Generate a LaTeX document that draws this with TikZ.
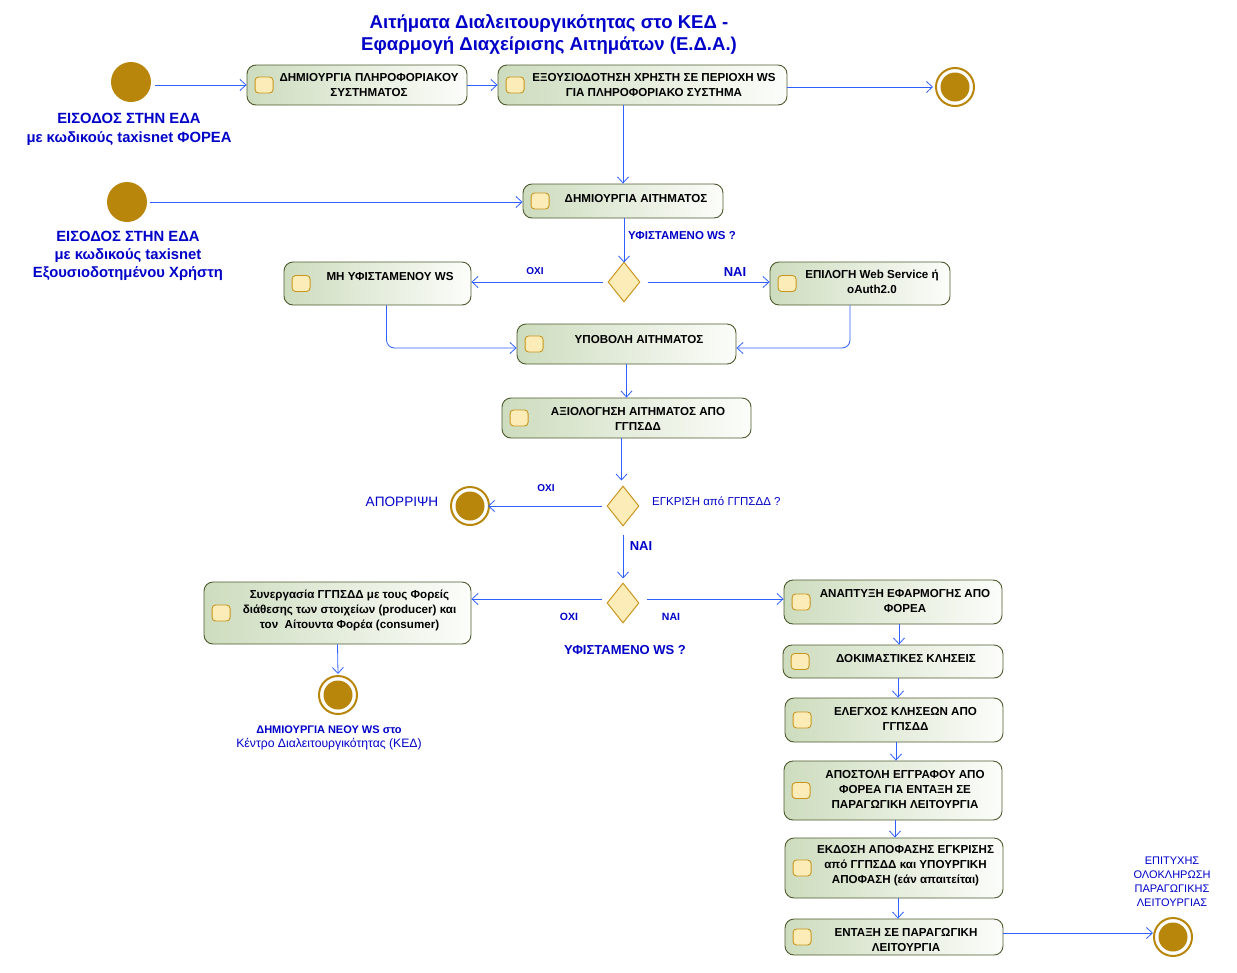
\documentclass[tikz,border=0pt]{standalone}
\usepackage{fontspec}
\setmainfont{Liberation Sans}
\usetikzlibrary{shapes.geometric,arrows.meta,calc}
\definecolor{gold}{RGB}{184,134,11}
\definecolor{icf}{RGB}{252,236,184}
\definecolor{icb}{RGB}{200,150,30}
\definecolor{actL}{RGB}{205,220,190}
\definecolor{actR}{RGB}{252,253,250}
\definecolor{actB}{RGB}{77,90,46}
\definecolor{connc}{RGB}{48,96,255}
\definecolor{lblue}{RGB}{0,0,200}
\tikzset{
  actbox/.style={draw=actB, line width=0.9pt, rounded corners=9pt, left color=actL, right color=actR, inner sep=0pt},
  iconbox/.style={draw=icb, fill=icf, rounded corners=3.5pt, minimum width=18pt, minimum height=16pt, inner sep=0pt, line width=0.9pt},
  acttext/.style={font=\bfseries\fontsize{11.6}{15}\selectfont, align=center, inner sep=0pt, text=black},
  conn/.style={draw=connc, line width=0.8pt, -{Straight Barb[length=6pt,width=11pt]}},
  decision/.style={diamond, draw=icb, fill=icf, line width=1pt, minimum width=32pt, minimum height=40pt, inner sep=0pt},
  startnode/.style={circle, fill=gold, minimum size=40pt, inner sep=0pt},
  finalnode/.style={circle, draw=gold, line width=2pt, fill=white, minimum size=38pt, inner sep=0pt},
  finalcore/.style={circle, fill=gold, minimum size=29pt, inner sep=0pt},
  lbl/.style={text=lblue, align=center, inner sep=0pt},
}
% name, cx, cy, w, h, text x, text y, text
\newcommand\actnd[8]{%
  \node[actbox, minimum width=#4pt, minimum height=#5pt] (#1) at (#2,#3) {};
  \node[iconbox] (#1i) at ($(#1.west)+(17.5,0)$) {};
  \node[acttext] (#1t) at (#6,#7) {#8};
}
\newcommand\finalnd[3]{%
  \node[finalnode] (#1) at (#2,#3) {};
  \node[finalcore] (#1c) at (#2,#3) {};
}
\begin{document}
\begin{tikzpicture}[x=1pt,y=-1pt]
\useasboundingbox (0,0) rectangle (1237,972);
% title
\node[lbl, font=\bfseries\fontsize{18.6}{22}\selectfont] (title) at (549,34) {Αιτήματα Διαλειτουργικότητας στο ΚΕΔ -\\Εφαρμογή Διαχείρισης Αιτημάτων (Ε.Δ.Α.)};
% starts
\node[startnode] (s1) at (131,82) {};
\node[startnode] (s2) at (127,202) {};
\node[lbl, font=\bfseries\fontsize{14.8}{19}\selectfont] (s1l) at (129,129.5) {ΕΙΣΟΔΟΣ ΣΤΗΝ ΕΔΑ\\με κωδικούς taxisnet ΦΟΡΕΑ};
\node[lbl, font=\bfseries\fontsize{14.8}{18}\selectfont] (s2l) at (128,256) {ΕΙΣΟΔΟΣ ΣΤΗΝ ΕΔΑ\\με κωδικούς taxisnet\\Εξουσιοδοτημένου Χρήστη};
% actions
\actnd{a1}{357}{85}{220}{40}{369}{85}{ΔΗΜΙΟΥΡΓΙΑ ΠΛΗΡΟΦΟΡΙΑΚΟΥ\\ΣΥΣΤΗΜΑΤΟΣ}
\actnd{a2}{642.5}{85}{289}{40}{654}{85}{ΕΞΟΥΣΙΟΔΟΤΗΣΗ ΧΡΗΣΤΗ ΣΕ ΠΕΡΙΟΧΗ WS\\ΓΙΑ ΠΛΗΡΟΦΟΡΙΑΚΟ ΣΥΣΤΗΜΑ}
\actnd{a3}{623}{201}{200}{34}{636}{199}{ΔΗΜΙΟΥΡΓΙΑ ΑΙΤΗΜΑΤΟΣ}
\actnd{a4}{377.5}{283.5}{187}{43}{390}{277}{ΜΗ ΥΦΙΣΤΑΜΕΝΟΥ WS}
\actnd{a5}{860}{283.5}{180}{43}{872}{281.5}{ΕΠΙΛΟΓΗ Web Service ή\\oAuth2.0}
\actnd{a6}{626.5}{344}{219}{40}{639}{340}{ΥΠΟΒΟΛΗ ΑΙΤΗΜΑΤΟΣ}
\actnd{a7}{626.5}{418}{249}{40}{638}{418.5}{ΑΞΙΟΛΟΓΗΣΗ ΑΙΤΗΜΑΤΟΣ ΑΠΟ\\ΓΓΠΣΔΔ}
\actnd{a8}{337.5}{613}{267}{62}{349.5}{610}{Συνεργασία ΓΓΠΣΔΔ με τους Φορείς\\διάθεσης των στοιχείων (producer) και\\τον\ \ Αίτουντα Φορέα (consumer)}
\actnd{a9}{893}{602}{218}{44}{905}{600.5}{ΑΝΑΠΤΥΞΗ ΕΦΑΡΜΟΓΗΣ ΑΠΟ\\ΦΟΡΕΑ}
\actnd{a10}{893}{661.5}{220}{33}{906}{658.5}{ΔΟΚΙΜΑΣΤΙΚΕΣ ΚΛΗΣΕΙΣ}
\actnd{a11}{894}{720}{218}{44}{905.5}{718.5}{ΕΛΕΓΧΟΣ ΚΛΗΣΕΩΝ ΑΠΟ\\ΓΓΠΣΔΔ}
\actnd{a12}{893}{790.5}{218}{59}{905}{789}{ΑΠΟΣΤΟΛΗ ΕΓΓΡΑΦΟΥ ΑΠΟ\\ΦΟΡΕΑ ΓΙΑ ΕΝΤΑΞΗ ΣΕ\\ΠΑΡΑΓΩΓΙΚΗ ΛΕΙΤΟΥΡΓΙΑ}
\actnd{a13}{894}{868}{218}{60}{905.5}{866}{ΕΚΔΟΣΗ ΑΠΟΦΑΣΗΣ ΕΓΚΡΙΣΗΣ\\από ΓΓΠΣΔΔ και ΥΠΟΥΡΓΙΚΗ\\ΑΠΟΦΑΣΗ (εάν απαιτείται)}
\actnd{a14}{894}{937}{218}{36}{906}{939.5}{ΕΝΤΑΞΗ ΣΕ ΠΑΡΑΓΩΓΙΚΗ\\ΛΕΙΤΟΥΡΓΙΑ}
% decisions
\node[decision] (d1) at (624,282) {};
\node[decision] (d2) at (623,506) {};
\node[decision] (d3) at (623,603) {};
% final nodes
\finalnd{e1}{955}{87}
\finalnd{e2}{470}{506}
\finalnd{e3}{338}{695}
\finalnd{e4}{1173}{937}
% labels
\node[lbl, font=\bfseries\fontsize{11.5}{14}\selectfont, anchor=west] (q1) at (628,236) {ΥΦΙΣΤΑΜΕΝΟ WS ?};
\node[lbl, font=\bfseries\fontsize{10}{12}\selectfont] (o1) at (535,271) {ΟΧΙ};
\node[lbl, font=\bfseries\fontsize{13}{15}\selectfont] (n1) at (735,272) {ΝΑΙ};
\node[lbl, font=\bfseries\fontsize{10}{12}\selectfont] (o2) at (546,488) {ΟΧΙ};
\node[lbl, font=\fontsize{11.5}{14}\selectfont, anchor=west] (q2) at (652,501) {ΕΓΚΡΙΣΗ από ΓΓΠΣΔΔ ?};
\node[lbl, font=\fontsize{13.6}{16}\selectfont] (rej) at (402,502) {ΑΠΟΡΡΙΨΗ};
\node[lbl, font=\bfseries\fontsize{13}{15}\selectfont] (n2) at (641,546) {ΝΑΙ};
\node[lbl, font=\bfseries\fontsize{10.5}{12}\selectfont] (o3) at (569,617) {ΟΧΙ};
\node[lbl, font=\bfseries\fontsize{10.5}{12}\selectfont] (n3) at (671,617) {ΝΑΙ};
\node[lbl, font=\bfseries\fontsize{13}{15}\selectfont] (q3) at (625,650) {ΥΦΙΣΤΑΜΕΝΟ WS ?};
\node[lbl, font=\fontsize{11}{14}\selectfont] (e3l) at (329,738) {\textbf{ΔΗΜΙΟΥΡΓΙΑ ΝΕΟΥ WS στο}\\{\fontsize{12.2}{14}\selectfont Κέντρο Διαλειτουργικότητας (ΚΕΔ)}};
\node[lbl, font=\fontsize{11}{14}\selectfont] (e4l) at (1172,882) {ΕΠΙΤΥΧΗΣ\\ΟΛΟΚΛΗΡΩΣΗ\\ΠΑΡΑΓΩΓΙΚΗΣ\\ΛΕΙΤΟΥΡΓΙΑΣ};
% connectors
\draw[conn] ([xshift=4pt]s1.east |- a1.west) -- (a1.west);
\draw[conn] (a1.east) -- (a2.west);
\draw[conn] (a2.east |- e1) -- ([xshift=-2pt]e1.west);
\draw[conn] (a2.south -| a3.north) -- (a3.north);
\draw[conn] ([xshift=3pt]s2.east) -- (a3.west |- s2.east);
\draw[conn] (a3.south -| d1.north) -- ([yshift=-1pt]d1.north);
\draw[conn] ([xshift=-5pt]d1.west) -- (d1.west -| a4.east);
\draw[conn] ([xshift=7pt]d1.east) -- (d1.east -| a5.west);
\draw[conn, rounded corners=8pt] ([xshift=9pt]a4.south) |- ([yshift=-4pt]a6.west);
\draw[conn, rounded corners=8pt] ([xshift=-10pt]a5.south) |- ([yshift=-4pt]a6.east);
\draw[conn] (a6.south) -- (a6.south |- a7.north);
\draw[conn] ([xshift=-5pt]a7.south) -- ([xshift=-5pt,yshift=5pt]a7.south |- d2.north);
\draw[conn] ([xshift=-5pt]d2.west) -- ([xshift=-2pt]e2.east);
\draw[conn] ([yshift=-8pt]d2.south) -- ([yshift=4pt]d3.north);
\draw[conn] ([xshift=-5pt,yshift=4pt]d3.west) -- ([yshift=4pt]d3.west -| a8.east);
\draw[conn] ([xshift=7pt,yshift=4pt]d3.east) -- ([yshift=4pt]d3.east -| a9.west);
\draw[conn] (a8.south) -- ([yshift=1pt]e3.north);
\draw[conn] ([xshift=6pt]a9.south) -- ([xshift=6pt]a9.south |- a10.north);
\draw[conn] ([xshift=5pt]a10.south) -- ([xshift=5pt]a10.south |- a11.north);
\draw[conn] ([xshift=2pt]a11.south) -- ([xshift=2pt]a11.south |- a12.north);
\draw[conn] ([xshift=2pt]a12.south) -- ([xshift=2pt]a12.south |- a13.north);
\draw[conn] ([xshift=4pt]a13.south) -- ([xshift=4pt]a13.south |- a14.north);
\draw[conn] ([yshift=4pt]a14.east) -- ([yshift=4pt]a14.east -| e4.west);
\end{tikzpicture}
\end{document}
